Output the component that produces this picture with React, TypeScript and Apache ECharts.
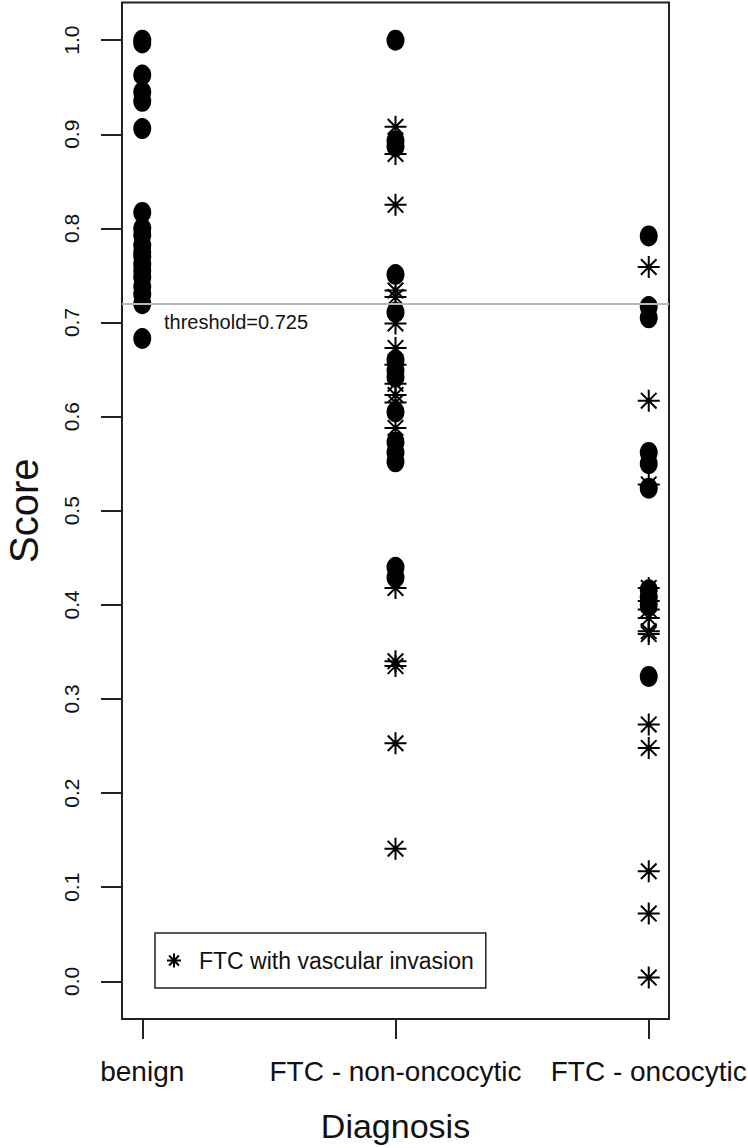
import React, { useEffect, useRef } from "react";
import * as echarts from "echarts";

const categories = ["benign", "FTC - non-oncocytic", "FTC - oncocytic"];
const yTicks = [0, 0.1, 0.2, 0.3, 0.4, 0.5, 0.6, 0.7, 0.8, 0.9, 1.0];
const threshold = 0.725;

// circles (no vascular invasion)
const benignScores = [
  1.0, 0.997, 0.963, 0.945, 0.935, 0.906, 0.817, 0.8, 0.793, 0.782, 0.775, 0.77,
  0.762, 0.755, 0.748, 0.738, 0.73, 0.72, 0.683,
];
const nonOncCircles = [
  1.0, 0.893, 0.887, 0.751, 0.711, 0.66, 0.649, 0.642, 0.605, 0.573, 0.562, 0.552,
  0.44, 0.429,
];
const oncCircles = [0.792, 0.717, 0.705, 0.562, 0.55, 0.524, 0.416, 0.408, 0.4, 0.324];

// asterisks (FTC with vascular invasion)
const nonOncStars = [
  0.908, 0.879, 0.825, 0.734, 0.727, 0.699, 0.673, 0.655, 0.635, 0.623, 0.615,
  0.588, 0.418, 0.34, 0.335, 0.253, 0.141,
];
const oncStars = [
  0.759, 0.617, 0.528, 0.418, 0.404, 0.395, 0.386, 0.372, 0.369, 0.273, 0.248,
  0.117, 0.072, 0.004,
];

const FONT = "'Liberation Sans', Arial, Helvetica, sans-serif";
const STAR =
  "path://M12 0 L12 24 M0 12 L24 12 M3.5 3.5 L20.5 20.5 M3.5 20.5 L20.5 3.5";

export default function App() {
  const ref = useRef<HTMLDivElement>(null);

  useEffect(() => {
    document.body.style.margin = "0";
    if (!ref.current) return;
    const chart = echarts.init(ref.current, undefined, { renderer: "svg" });

    const circleData = [
      ...benignScores.map((v) => [1, v]),
      ...nonOncCircles.map((v) => [2, v]),
      ...oncCircles.map((v) => [3, v]),
    ];
    const starData = [
      ...nonOncStars.map((v) => [2, v]),
      ...oncStars.map((v) => [3, v]),
    ];

    chart.setOption({
      animation: false,
      backgroundColor: "#ffffff",
      grid: {
        left: 122,
        right: 79,
        top: 2.5,
        bottom: 129,
        show: true,
        borderColor: "#222",
        borderWidth: 2,
        backgroundColor: "transparent",
        outerBoundsMode: "none",
        containLabel: false,
      },
      xAxis: {
        type: "value",
        min: 0.92,
        max: 3.08,
        name: "Diagnosis",
        nameLocation: "middle",
        nameGap: 90,
        nameTextStyle: { fontFamily: FONT, fontSize: 34, color: "#111" },
        axisLine: { show: false, onZero: false },
        splitLine: { show: false },
        axisTick: {
          show: true,
          length: 20,
          customValues: [1, 2, 3],
          lineStyle: { color: "#222", width: 2 },
        },
        axisLabel: {
          customValues: [1, 2, 3],
          formatter: (v: number) => categories[Math.round(v) - 1] ?? "",
          margin: 38,
          fontFamily: FONT,
          fontSize: 28,
          color: "#111",
        },
      },
      yAxis: {
        type: "value",
        min: -0.04,
        max: 1.04,
        name: "Score",
        nameLocation: "middle",
        nameRotate: 90,
        nameGap: 78,
        nameTextStyle: { fontFamily: FONT, fontSize: 40, color: "#111" },
        axisLine: { show: false, onZero: false },
        splitLine: { show: false },
        axisTick: {
          show: true,
          length: 21,
          customValues: yTicks,
          lineStyle: { color: "#222", width: 2 },
        },
        axisLabel: {
          customValues: yTicks,
          rotate: 90,
          margin: 40,
          formatter: (v: number) => v.toFixed(1),
          fontFamily: FONT,
          fontSize: 21,
          color: "#111",
        },
      },
      legend: {
        left: 155,
        top: 933,
        orient: "horizontal",
        data: ["FTC with vascular invasion"],
        borderColor: "#222",
        borderWidth: 1.5,
        padding: [16, 12, 16, 11],
        itemWidth: 14,
        itemHeight: 14,
        itemGap: 0,
        textStyle: { fontFamily: FONT, fontSize: 23, color: "#111", padding: [0, 0, 0, 13] },
        selectedMode: false,
      },
      graphic: [
        {
          type: "text",
          left: 164,
          top: 312,
          style: {
            text: "threshold=0.725",
            font: `20px ${FONT}`,
            fill: "#111",
          },
        },
      ],
      series: [
        {
          type: "scatter",
          name: "no vascular invasion",
          data: circleData,
          symbol: "circle",
          symbolSize: [18, 21],
          itemStyle: { color: "#000", opacity: 1 },
          markLine: {
            silent: true,
            symbol: ["none", "none"],
            label: { show: false },
            lineStyle: { color: "#b8b8b8", width: 2, type: "solid" },
            data: [{ yAxis: threshold }],
          },
          z: 2,
        },
        {
          type: "scatter",
          name: "FTC with vascular invasion",
          data: starData,
          symbol: STAR,
          symbolSize: [22, 22],
          itemStyle: {
            color: "rgba(0,0,0,0)",
            borderColor: "#000",
            borderWidth: 2,
            opacity: 1,
          },
          z: 3,
        },
      ],
    });

    return () => chart.dispose();
  }, []);

  return <div ref={ref} style={{ width: 748, height: 1148 }} />;
}
